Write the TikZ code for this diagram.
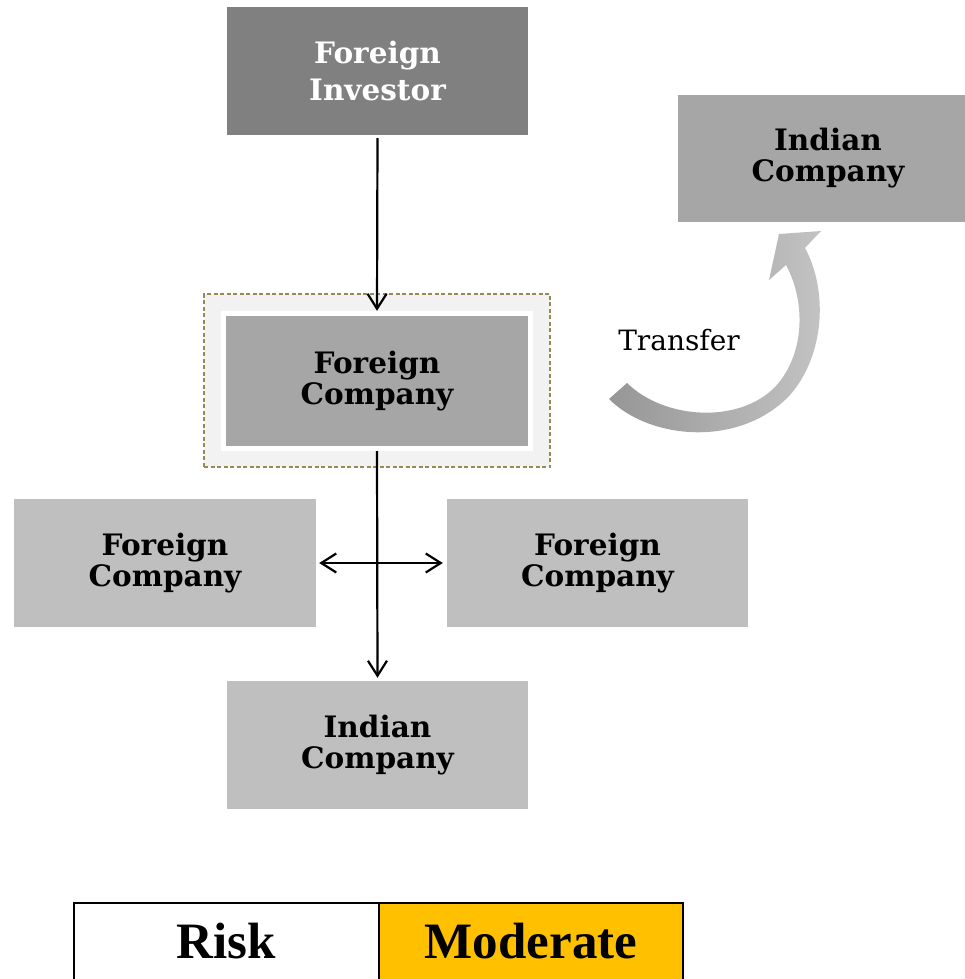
\documentclass[tikz,border=0pt]{standalone}
\usepackage{fontspec}
\setmainfont{DejaVu Serif}
\newfontfamily\tablefont{Liberation Serif}
\usepackage{xcolor}
\usetikzlibrary{arrows.meta, positioning, calc}

\definecolor{investorgray}{HTML}{808080}
\definecolor{midgray}{HTML}{A6A6A6}
\definecolor{lightgray}{HTML}{BFBFBF}
\definecolor{framegray}{HTML}{F2F2F2}
\definecolor{framedash}{HTML}{948A54}
\definecolor{riskamber}{HTML}{FFC000}

\begin{document}
\begin{tikzpicture}[x=1pt, y=-1pt,
    box/.style={minimum width=301pt, minimum height=128pt, inner sep=0pt,
        align=center, font=\bfseries\fontsize{29.5}{31}\selectfont},
    flow/.style={line width=2.2pt, -{Straight Barb[length=15pt, width=19pt]}}
  ]
    \useasboundingbox (0,0) rectangle (965,979);

    % Boxes
    \node[box, fill=investorgray, text=white,
        font=\bfseries\fontsize{29.5}{37}\selectfont] (investor) at (377.5,71) {Foreign\\Investor};
    \node[box, fill=midgray, minimum width=287pt, minimum height=127pt] (indiantop) at (821.5,158.5) {};
    \node[align=center, inner sep=0pt, font=\bfseries\fontsize{29.5}{31}\selectfont] (indiantext) at (828,158.5) {Indian\\Company};

    % Highlighted company with frame
    \node[draw=framedash, dash pattern=on 4pt off 2.5pt, line width=1.3pt, fill=framegray,
        minimum width=346pt, minimum height=173pt] (fcframe) at (377,380.5) {};
    \node[fill=white, minimum width=312pt, minimum height=140pt] (fcwhite) at (377,381) {};
    \node[box, fill=midgray, minimum width=302pt, minimum height=130pt] (fcmid) at (377,381) {Foreign\\Company};

    \node[box, fill=lightgray, minimum width=302pt] (fcleft) at (165,563) {Foreign\\Company};
    \node[box, fill=lightgray] (fcright) at (597.5,563) {Foreign\\Company};
    \node[box, fill=lightgray] (indianbot) at (377.5,745) {Indian\\Company};

    % Connectors
    \draw[flow, shorten <=3pt] (investor.south) -- (fcwhite.north);
    \draw[flow, shorten >=3pt] (fcwhite.south) -- (indianbot.north);
    \draw[flow, {Straight Barb[length=15pt, width=19pt]}-{Straight Barb[length=15pt, width=19pt]},
        shorten <=3pt, shorten >=4pt] (fcleft.east) -- (fcright.west);

    % Curved transfer arrow
    \shade[left color={rgb,255:red,150;green,150;blue,150}, right color={rgb,255:red,196;green,196;blue,196}]
        (609,399) .. controls (650,440) and (740,448) .. (790,395)
        .. controls (825,355) and (828,290) .. (805,248)
        -- (821,231) -- (779,234) -- (769,280) -- (786,265)
        .. controls (805,300) and (806,352) .. (776,386)
        .. controls (740,424) and (665,420) .. (627,383) -- cycle;
    \node[anchor=base, font=\fontsize{28}{31}\selectfont] (transfer) at (679,350) {Transfer};

    % Risk table
    \coordinate (TL) at (74,903);
    \coordinate (TM) at (379,903);
    \coordinate (TR) at (683,903);
    \fill[white] (TL) rectangle (379,979);
    \fill[riskamber] (TM) rectangle (683,979);
    \draw[line width=2pt] (74,979) -- (TL) -- (TR) -- (683,979);
    \draw[line width=2pt] (TM) -- (379,979);
    \node[anchor=base, font=\tablefont\bfseries\fontsize{51}{56}\selectfont] (risk) at ($(TL)!0.5!(TM)+(0,55)$) {Risk};
    \node[anchor=base, font=\tablefont\bfseries\fontsize{51}{56}\selectfont] (level) at ($(TM)!0.5!(TR)+(0,55)$) {Moderate};
\end{tikzpicture}
\end{document}
